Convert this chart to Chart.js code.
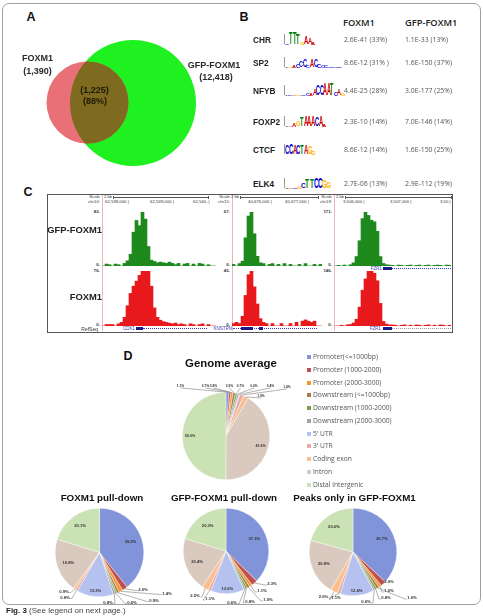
<!DOCTYPE html>
<html><head><meta charset="utf-8">
<script src="https://cdn.jsdelivr.net/npm/chart.js@4.4.1/dist/chart.umd.min.js"></script>
<style>
html,body{margin:0;padding:0;background:#fff;}
body{width:483px;height:616px;position:relative;overflow:hidden;font-family:"Liberation Sans",Arial,sans-serif;color:#222;}
canvas{position:absolute;}
.t{position:absolute;white-space:nowrap;line-height:1;}
.ln{position:absolute;}
</style></head><body>
<div class="ln" style="left:2px;top:3px;width:477px;height:600px;border:1px solid #a0a0a0;border-radius:7px;"></div>
<script>
// ---------------- DATA ----------------
// Panel A (Venn)
const vennSets = ['FOXM1', 'GFP-FOXM1'];
const vennCounts = [1390, 12418];
const vennOverlap = [1225];
const vennOverlapPct = [88];

// Panel B (motifs)
const motifNames = ['CHR', 'SP2', 'NFYB', 'FOXP2', 'CTCF', 'ELK4'];
const motifLogos = ['cTTTgAAa', 'tgaccCCaCCcccccc', 'tcagaccaaCCAATcAg', 'taagTAAACAa', 'CCACTAGg', 'tacgcTTCCgg'];
const motifColHeads = ['FOXM1', 'GFP-FOXM1'];
const foxm1Motif = ['2.6E-41 (33%)', '8.6E-12 (31% )', '4.4E-25 (28%)', '2.3E-10 (14%)', '8.6E-12 (14%)', '2.7E-06 (13%)'];
const gfpMotif = ['1.1E-33 (13%)', '1.6E-150 (37%)', '3.0E-177 (25%)', '7.0E-146 (14%)', '1.6E-150 (25%)', '2.9E-112 (19%)'];

// Panel C (ChIP-seq tracks)
const trackNames = ['GFP-FOXM1', 'FOXM1'];
const trackChrom = ['chr10:', 'chr15:', 'chr19:'];
const trackTicks = [['62,538,000', '62,539,000', '62,540,'], ['40,676,000', '40,677,000'], ['3,506,000', '3,507,000', '3,50']];
const trackGenes = ['CDK1', 'KNSTRN', 'FZR1'];
const gfpMax = [83, 67, 171];
const foxm1Max = [76, 45, 146];
const gfpCov1 = [0,3,2,0,3,2,0,4,8,18,52,70,62,83,72,30,9,7,5,6,5,4,6,4,2,4,0,3,4,0,3,0,4,3,0,2,0,0];
const foxm1Cov1 = [0,2,2,2,0,3,5,12,28,45,55,62,70,76,76,76,55,25,12,8,6,5,4,3,4,2,3,2,0,3,2,0,2,3,0,2,0,0];
const gfpCov2 = [2,0,3,6,35,62,67,40,12,4,3,0,2,3,0,2,0,3,0,2,0,0,2,0,3,0,0,2,0,2];
const foxm1Cov2 = [2,3,2,8,25,42,45,32,18,6,3,2,0,2,0,0,2,0,0,2,0,3,0,4,5,4,3,4,0,0];
const gfpCov3 = [0,2,0,3,0,4,10,30,80,150,171,160,145,140,110,30,8,4,3,2,0,3,2,0,2,3,0,2,3,0,2,3,0,2,3,2,0,3,2];
const foxm1Cov3 = [0,0,2,0,3,4,8,18,50,95,125,146,146,140,120,60,12,5,3,3,2,0,2,3,0,2,0,3,2,0,2,3,0,2,0,3,2,0,2];

// Panel D (genomic distribution, %)
const regionLabels = ['Promoter(<=1000bp)', 'Promoter (1000-2000)', 'Promoter (2000-3000)', 'Downstream (<=1000bp)', 'Downstream (1000-2000)', 'Downstream (2000-3000)', "5' UTR", "3' UTR", 'Coding exon', 'Intron', 'Distal intergenic'];
const pieTitles = ['Genome average', 'FOXM1 pull-down', 'GFP-FOXM1 pull-down', 'Peaks only in GFP-FOXM1'];
const genomeAvg = [1.1, 0.7, 0.8, 0.9, 0.7, 0.6, 0.4, 1.4, 1.9, 41.6, 50.0];
const foxm1Pull = [39.2, 2.0, 1.4, 0.9, 0.6, 0.8, 13.3, 0.8, 0.9, 19.8, 20.1];
const gfpPull = [37.3, 2.3, 1.1, 1.0, 0.8, 0.6, 12.6, 1.1, 2.5, 20.4, 20.3];
const gfpOnly = [36.7, 2.0, 1.0, 1.0, 0.8, 0.6, 12.4, 1.1, 2.6, 20.8, 20.6];

// ---------------- STYLE / LAYOUT ----------------
const regionColors = ['#8294d9', '#c0504d', '#f5962e', '#a57c4e', '#79a346', '#a3a3a3', '#b5c2ef', '#e7a9a7', '#f9bf8f', '#dac9bf', '#cbe2b5'];
const logoColors = {A: '#cc0000', C: '#0000cc', G: '#ffb300', T: '#008000'};

function txt(x, y, s, css, anchor) {
  const d = document.createElement('div');
  d.className = 't';
  d.textContent = s;
  d.style.cssText += css || '';
  d.style.left = x + 'px'; d.style.top = y + 'px';
  d.style.transform = anchor === 'c' ? 'translate(-50%,-50%)' : anchor === 'r' ? 'translate(-100%,-50%)' : 'translate(0,-50%)';
  document.body.appendChild(d);
  return d;
}
function box(x, y, w, h, css) {
  const d = document.createElement('div');
  d.className = 'ln';
  d.style.cssText = `left:${x}px;top:${y}px;width:${w}px;height:${h}px;` + css;
  document.body.appendChild(d);
  return d;
}
function mkCanvas(x, y, w, h) {
  const c = document.createElement('canvas');
  c.width = w; c.height = h;
  c.style.left = x + 'px'; c.style.top = y + 'px';
  c.style.width = w + 'px'; c.style.height = h + 'px';
  document.body.appendChild(c);
  return c;
}
const base = {responsive: false, animation: false, events: [], plugins: {legend: {display: false}, tooltip: {enabled: false}}};

// ---------------- PANEL LABELS ----------------
const panelFont = 'font-weight:bold;font-size:12.5px;color:#111;';
txt(31, 17, 'A', panelFont, 'c');
txt(244, 17, 'B', panelFont, 'c');
txt(28, 192, 'C', panelFont, 'c');
txt(128, 356, 'D', panelFont, 'c');

// ---------------- PANEL A: VENN ----------------
const vennLayout = {red: {x: 87.5, y: 102.5, r: 41}, green: {x: 133, y: 103, r: 63}};
const vennOverlapPlugin = {
  id: 'vennOverlap',
  afterDatasetsDraw(chart) {
    const a = chart.getDatasetMeta(0).data[0];
    const b = chart.getDatasetMeta(1).data[0];
    const ctx = chart.ctx;
    ctx.save();
    ctx.beginPath(); ctx.arc(a.x, a.y, a.options.radius, 0, Math.PI * 2); ctx.clip();
    ctx.beginPath(); ctx.arc(b.x, b.y, b.options.radius, 0, Math.PI * 2);
    ctx.fillStyle = '#7e6b1f'; ctx.fill();
    ctx.restore();
  }
};
new Chart(mkCanvas(0, 0, 240, 180), {
  type: 'bubble',
  data: {datasets: [
    {label: vennSets[0] + ' ' + vennCounts[0], data: [{x: vennLayout.red.x, y: vennLayout.red.y, r: vennLayout.red.r}], backgroundColor: '#ea7078', borderWidth: 0, clip: false},
    {label: vennSets[1] + ' ' + vennCounts[1], data: [{x: vennLayout.green.x, y: vennLayout.green.y, r: vennLayout.green.r}], backgroundColor: '#1ff01f', borderWidth: 0, clip: false}
  ]},
  options: Object.assign({}, base, {
    layout: {padding: 0, autoPadding: false},
    scales: {x: {type: 'linear', min: 0, max: 240, display: false}, y: {type: 'linear', min: 0, max: 180, reverse: true, display: false}}
  }),
  plugins: [vennOverlapPlugin]
});
const vf = 'font-weight:bold;font-size:9px;color:#2a2a2a;';
const fmt = n => n.toLocaleString('en-US');
txt(37.5, 58, vennSets[0], vf, 'c');
txt(37.5, 71, '(' + fmt(vennCounts[0]) + ')', vf, 'c');
txt(214, 65, vennSets[1], vf, 'c');
txt(216, 77, '(' + fmt(vennCounts[1]) + ')', vf, 'c');
txt(94.5, 90, '(' + fmt(vennOverlap[0]) + ')', vf + 'color:#1e1a08;', 'c');
txt(95, 101, '(' + vennOverlapPct[0] + '%)', vf + 'color:#1e1a08;', 'c');

// ---------------- PANEL B: MOTIF TABLE ----------------
const rowY = [40, 63, 91, 122, 150, 184];
const logoW = [30, 57, 59, 41, 30, 45];
const logoH = [
  [0.15, 0.95, 0.95, 0.9, 0.25, 0.7, 0.55, 0.2],
  [0.15, 0.1, 0.2, 0.35, 0.55, 0.6, 0.2, 0.6, 0.65, 0.35, 0.25, 0.2, 0.15, 0.1, 0.1, 0.1],
  [0.1, 0.1, 0.1, 0.1, 0.1, 0.15, 0.2, 0.25, 0.5, 0.85, 0.85, 0.95, 0.95, 0.95, 0.3, 0.5, 0.2],
  [0.1, 0.15, 0.3, 0.45, 0.8, 0.9, 0.9, 0.9, 0.8, 0.85, 0.2],
  [0.75, 0.9, 0.8, 0.75, 0.8, 0.8, 0.6, 0.3],
  [0.1, 0.1, 0.15, 0.2, 0.4, 0.8, 0.8, 0.85, 0.85, 0.6, 0.5]
];
txt(343, 23, motifColHeads[0], 'font-family:"Open Sans";font-weight:600;font-size:9.3px;color:#222;', 'l');
txt(405, 23, motifColHeads[1], 'font-family:"Open Sans";font-weight:600;font-size:9.3px;color:#222;', 'l');
motifNames.forEach((m, i) => {
  const y = rowY[i];
  txt(253, y, m, 'font-weight:bold;font-size:8.3px;color:#222;', 'l');
  const seq = motifLogos[i];
  const H = 12, w = logoW[i] / seq.length;
  const lg = box(284, y - 7, logoW[i], H, 'overflow:visible;');
  box(284, y - 6, 0.6, 10, 'background:#999;');
  [...seq].forEach((ch, k) => {
    const L = ch.toUpperCase();
    const h = logoH[i][k] || 0.2;
    const s = document.createElement('span');
    s.textContent = L;
    s.style.cssText = `position:absolute;left:${1 + k * w}px;bottom:0;font-weight:bold;font-size:12px;line-height:9px;height:9px;color:${logoColors[L]};transform-origin:0 100%;transform:scale(${(w / 7.6).toFixed(3)},${(h * H / 8.6).toFixed(3)});`;
    lg.appendChild(s);
  });
  txt(344, y, foxm1Motif[i], 'font-family:"Open Sans";font-size:6.9px;color:#555;', 'l');
  txt(405, y, gfpMotif[i], 'font-family:"Open Sans";font-size:6.9px;color:#555;', 'l');
});

// ---------------- PANEL C: TRACKS ----------------
box(47, 194, 404, 137, 'border:1.3px solid #555;');
const cols = [{x0: 102, x1: 216}, {x0: 232, x1: 322}, {x0: 334, x1: 451}];
const gTop = 212, gBase = 266, rTop = 271, rBase = 326;
const gfpCovs = [gfpCov1, gfpCov2, gfpCov3];
const foxCovs = [foxm1Cov1, foxm1Cov2, foxm1Cov3];
function track(x, y, w, h, values, max, color) {
  new Chart(mkCanvas(x, y, w, h), {
    type: 'bar',
    data: {labels: values.map((_, i) => i), datasets: [{data: values, backgroundColor: color, borderWidth: 0, barPercentage: 1, categoryPercentage: 1}]},
    options: Object.assign({}, base, {layout: {padding: 0, autoPadding: false}, scales: {x: {display: false}, y: {display: false, min: 0, max: max}}})
  });
}
const tiny = 'font-size:4.3px;color:#333;';
const tickX = [[105, 150, 193], [248, 285], [343, 390, 440]];
const rulerX = [[113, 208], [240, 318], [345, 451]];
cols.forEach((c, i) => {
  box(c.x0, 195, 0.8, 136, 'background:#f2b4b4;');
  track(c.x0, gTop, c.x1 - c.x0, gBase - gTop, gfpCovs[i], gfpMax[i], '#1e8a1e');
  track(c.x0, rTop, c.x1 - c.x0, rBase - rTop, foxCovs[i], foxm1Max[i], '#e8191c');
  txt(c.x0 - 2, gTop, gfpMax[i] + '-', tiny + 'font-weight:bold;', 'r');
  txt(c.x0 - 2, gBase - 1, '0-', tiny + 'font-weight:bold;', 'r');
  txt(c.x0 - 2, rTop, foxm1Max[i] + '-', tiny + 'font-weight:bold;', 'r');
  txt(c.x0 - 2, rBase - 1, '0-', tiny + 'font-weight:bold;', 'r');
  txt(c.x0 - 2, 197, 'Scale', tiny, 'r');
  txt(c.x0 - 2, 201.5, trackChrom[i], tiny, 'r');
  txt(rulerX[i][0] - 1, 197, '2 kb', tiny, 'r');
  box(rulerX[i][0], 197, rulerX[i][1] - rulerX[i][0], 0.6, 'background:#555;');
  box(rulerX[i][0], 195.5, 0.6, 3, 'background:#555;');
  box(rulerX[i][1], 195.5, 0.6, 3, 'background:#555;');
  trackTicks[i].forEach((t, k) => txt(tickX[i][k], 201.5, t + ' |', tiny, 'l'));
});
txt(102, 230, trackNames[0], 'font-weight:bold;font-size:9.4px;color:#222;', 'r');
txt(102, 297, trackNames[1], 'font-weight:bold;font-size:9.4px;color:#222;', 'r');
txt(98, 328.5, 'RefSeq', tiny + 'font-size:5px;', 'r');
const geneCss = 'font-size:4.5px;color:#3a3aa8;';
txt(123, 328.5, trackGenes[0], geneCss, 'l');
box(136, 327, 7, 3, 'background:#1a1a8a;');
box(143, 328.3, 64, 0.6, 'border-top:0.7px dotted #3a3ac0;');
txt(232, 328.5, trackGenes[1], geneCss, 'r');
box(233, 328.3, 84, 0.6, 'border-top:0.7px dotted #3a3ac0;');
box(241, 327, 12, 3, 'background:#1a1a8a;');
box(259, 327, 4, 3, 'background:#1a1a8a;');
txt(382, 268.5, trackGenes[2], geneCss, 'r');
box(383, 267, 9, 3, 'background:#1a1a8a;');
box(392, 268.3, 59, 0.6, 'border-top:0.7px dotted #3a3ac0;');
txt(381, 328.5, trackGenes[2], geneCss, 'r');
box(383, 327, 9, 3, 'background:#1a1a8a;');
box(392, 328.3, 59, 0.6, 'border-top:0.9px dotted #999;');

// ---------------- PANEL D: PIES ----------------
const pieLabelPlugin = {
  id: 'pieLabels',
  afterDatasetsDraw(chart, args, opts) {
    const ctx = chart.ctx;
    const meta = chart.getDatasetMeta(0);
    const data = chart.data.datasets[0].data;
    const place = opts.place || {};
    ctx.save();
    ctx.fillStyle = '#333';
    ctx.strokeStyle = '#666';
    ctx.lineWidth = 0.5;
    meta.data.forEach((arc, i) => {
      const v = data[i];
      const mid = (arc.startAngle + arc.endAngle) / 2;
      const cx = arc.x, cy = arc.y, r = arc.outerRadius;
      const label = v.toFixed(1) + '%';
      if (v >= 5) {
        const rr = r * (v < 15 ? opts.innerSmall : opts.inner);
        ctx.font = 'bold ' + opts.innerFont + 'px "Liberation Sans", Arial';
        ctx.textAlign = 'center'; ctx.textBaseline = 'middle';
        ctx.fillText(label, cx + Math.cos(mid) * rr, cy + Math.sin(mid) * rr);
      } else if (place[i]) {
        const [dx, dy, al] = place[i];
        const ex = cx + Math.cos(mid) * r, ey = cy + Math.sin(mid) * r;
        const tx = cx + dx, ty = cy + dy;
        ctx.font = 'bold ' + opts.outerFont + 'px "Liberation Sans", Arial';
        ctx.textBaseline = 'middle';
        ctx.beginPath(); ctx.moveTo(ex, ey);
        if (al === 'c') {
          ctx.lineTo(tx, ty + opts.outerFont * 0.6);
          ctx.textAlign = 'center';
          ctx.stroke(); ctx.fillText(label, tx, ty);
        } else if (al === 'l') {
          ctx.lineTo(tx - 2, ty + 1); ctx.lineTo(tx - 0.3, ty + 1);
          ctx.textAlign = 'left';
          ctx.stroke(); ctx.fillText(label, tx + 0.3, ty);
        } else {
          ctx.lineTo(tx + 2, ty + 1); ctx.lineTo(tx + 0.3, ty + 1);
          ctx.textAlign = 'right';
          ctx.stroke(); ctx.fillText(label, tx - 0.3, ty);
        }
      }
    });
    ctx.restore();
  }
};
function pie(cx, cy, r, values, place, fonts) {
  const m = 75;
  const c = mkCanvas(Math.round(cx - r - m), Math.round(cy - r - m), Math.round(2 * r + 2 * m), Math.round(2 * r + 2 * m));
  new Chart(c, {
    type: 'pie',
    data: {labels: regionLabels, datasets: [{data: values, backgroundColor: regionColors, borderColor: '#ffffff', borderWidth: 0.4}]},
    options: Object.assign({}, base, {
      layout: {padding: m, autoPadding: false},
      plugins: {legend: {display: false}, tooltip: {enabled: false}, pieLabels: Object.assign({place: place}, fonts)}
    }),
    plugins: [pieLabelPlugin]
  });
}
const genomePlace = {0: [-45.5, -50, 'c'], 1: [-20.5, -50, 'c'], 2: [-12.5, -50, 'c'], 3: [3.5, -50, 'c'], 4: [14.5, -50, 'c'], 5: [28, -50, 'c'], 6: [44.5, -50, 'c'], 7: [61, -49, 'c'], 8: [35, -40, 'c']};
const pie1Place = {1: [38.5, 37, 'l'], 2: [62.5, 41, 'l'], 3: [49.5, 48, 'l'], 4: [27.5, 50, 'l'], 5: [13.5, 50, 'r'], 7: [-29.5, 45, 'r'], 8: [-30.5, 39, 'r']};
const pie2Place = {1: [41, 33, 'l'], 2: [31, 40, 'l'], 3: [37, 49, 'l'], 4: [19, 51, 'l'], 5: [11, 52, 'r'], 7: [-21, 48, 'l'], 8: [-26, 45, 'r']};
const pie3Place = {1: [31, 30, 'l'], 2: [31, 39, 'l'], 3: [54, 46, 'l'], 4: [28, 46, 'l'], 5: [18, 50, 'r'], 7: [-22, 46, 'l'], 8: [-24.5, 45, 'r']};
pie(225.5, 436, 44, genomeAvg, genomePlace, {inner: 0.82, innerSmall: 0.82, innerFont: 3.6, outerFont: 3.2});
pie(99.5, 552, 44.5, foxm1Pull, pie1Place, {inner: 0.74, innerSmall: 0.88, innerFont: 4.1, outerFont: 4.2});
pie(226, 551, 43, gfpPull, pie2Place, {inner: 0.72, innerSmall: 0.88, innerFont: 4.1, outerFont: 4.2});
pie(352.5, 552, 44, gfpOnly, pie3Place, {inner: 0.72, innerSmall: 0.88, innerFont: 4.1, outerFont: 4.2});

txt(231, 364, pieTitles[0], 'font-weight:bold;font-size:11.4px;color:#111;', 'c');
txt(102, 498, pieTitles[1], 'font-weight:bold;font-size:9.8px;color:#111;', 'c');
txt(224, 498, pieTitles[2], 'font-weight:bold;font-size:9.8px;color:#111;', 'c');
txt(354.5, 498, pieTitles[3], 'font-weight:bold;font-size:9.8px;color:#111;', 'c');

regionLabels.forEach((lab, i) => {
  const y = 357 + i * 12.75;
  box(307, y - 2, 4, 4, 'background:' + regionColors[i] + ';');
  txt(313, y, lab, 'font-family:"Open Sans";font-size:6.7px;color:#555;', 'l');
});

const cap = txt(6, 611, '', 'font-size:8px;color:#444;', 'l');
cap.innerHTML = '<b style="color:#222">Fig. 3</b> (See legend on next page.)';
</script>
</body></html>
